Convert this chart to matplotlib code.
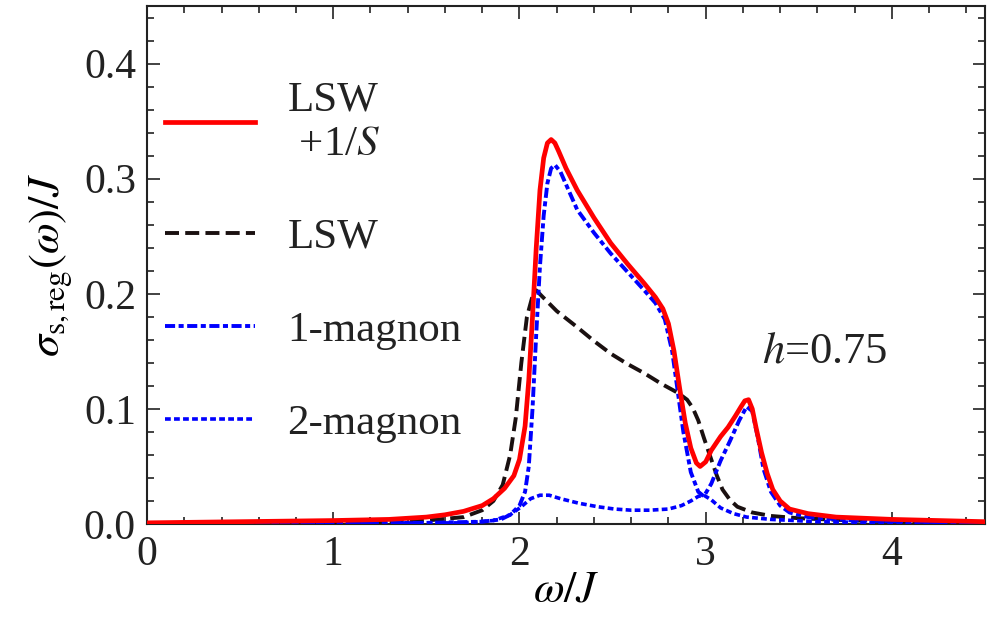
import matplotlib.pyplot as plt
from matplotlib.ticker import MultipleLocator

plt.rcParams.update({"font.family": "Liberation Serif", "mathtext.fontset": "stix",
                     "font.size": 30})

# omega/J values and sigma curves
w_red = [0.0, 0.5, 1.0, 1.3, 1.5, 1.6, 1.7, 1.8, 1.86, 1.92, 1.97, 2.00, 2.03, 2.05,
         2.07, 2.09, 2.11, 2.13, 2.15, 2.17, 2.19, 2.21, 2.25, 2.31, 2.40, 2.49, 2.58,
         2.67, 2.73, 2.77, 2.80, 2.83, 2.86, 2.89, 2.92, 2.95, 2.97, 3.00, 3.03, 3.08,
         3.12, 3.16, 3.19, 3.21, 3.23, 3.25, 3.27, 3.30, 3.33, 3.36, 3.40, 3.45, 3.55,
         3.70, 4.0, 4.5]
s_red = [0.001, 0.002, 0.003, 0.004, 0.006, 0.008, 0.011, 0.016, 0.022, 0.031, 0.042,
         0.056, 0.085, 0.125, 0.180, 0.240, 0.290, 0.318, 0.331, 0.334, 0.331, 0.324,
         0.309, 0.290, 0.266, 0.244, 0.226, 0.209, 0.197, 0.187, 0.174, 0.150, 0.118,
         0.088, 0.066, 0.053, 0.050, 0.054, 0.064, 0.076, 0.084, 0.094, 0.102, 0.107,
         0.108, 0.100, 0.084, 0.062, 0.044, 0.030, 0.020, 0.013, 0.009, 0.006, 0.004,
         0.002]

w_lsw = [0.0, 1.0, 1.5, 1.7, 1.8, 1.86, 1.91, 1.95, 1.98, 2.01, 2.04, 2.07, 2.09, 2.12,
         2.20, 2.31, 2.40, 2.49, 2.58, 2.67, 2.76, 2.85, 2.90, 2.93, 2.96, 2.99, 3.03,
         3.06, 3.09, 3.13, 3.17, 3.25, 3.35, 3.5, 3.8, 4.2, 4.5]
s_lsw = [0.0, 0.001, 0.003, 0.006, 0.012, 0.020, 0.034, 0.060, 0.092, 0.140, 0.180,
         0.198, 0.203, 0.198, 0.185, 0.171, 0.159, 0.148, 0.139, 0.131, 0.122, 0.114,
         0.108, 0.101, 0.090, 0.075, 0.056, 0.042, 0.030, 0.021, 0.015, 0.010, 0.007,
         0.005, 0.003, 0.002, 0.001]

w_one = [0.0, 1.5, 1.8, 1.9, 1.95, 2.00, 2.03, 2.05, 2.07, 2.09, 2.11, 2.13, 2.15, 2.17,
         2.19, 2.22, 2.31, 2.40, 2.49, 2.58, 2.67, 2.73, 2.78, 2.82, 2.85, 2.88, 2.92,
         2.96, 2.99, 3.03, 3.08, 3.13, 3.18, 3.22, 3.25, 3.28, 3.31, 3.35, 3.40, 3.45,
         3.55, 3.8, 4.5]
s_one = [0.0, 0.001, 0.002, 0.004, 0.008, 0.016, 0.028, 0.050, 0.100, 0.165, 0.224,
         0.268, 0.296, 0.309, 0.312, 0.306, 0.273, 0.253, 0.235, 0.219, 0.203, 0.192,
         0.178, 0.150, 0.115, 0.080, 0.045, 0.028, 0.024, 0.035, 0.055, 0.072, 0.090,
         0.102, 0.098, 0.075, 0.048, 0.028, 0.016, 0.010, 0.006, 0.003, 0.001]

w_two = [0.0, 1.7, 1.86, 1.95, 2.01, 2.06, 2.11, 2.16, 2.22, 2.32, 2.42, 2.51, 2.60,
         2.70, 2.80, 2.87, 2.92, 2.96, 2.99, 3.03, 3.08, 3.15, 3.22, 3.35, 3.6, 4.0, 4.5]
s_two = [0.0, 0.001, 0.003, 0.008, 0.015, 0.022, 0.025, 0.025, 0.022, 0.018, 0.015,
         0.013, 0.012, 0.012, 0.013, 0.016, 0.020, 0.024, 0.025, 0.021, 0.014, 0.009,
         0.006, 0.004, 0.002, 0.001, 0.001]

fig = plt.figure(figsize=(9.9, 6.34), dpi=100)
ax = fig.add_axes([0.1485, 0.1735, 0.8465, 0.817])

ax.plot(w_red, s_red, color="#ff0000", lw=3.4, label="LSW\n +1/$S$", zorder=4)
ax.plot(w_lsw, s_lsw, color="#1a1010", lw=2.8, dashes=(3.6, 1.6), label="LSW", zorder=3)
ax.plot(w_one, s_one, color="#0000ff", lw=2.8, dashes=(2.6, 0.9, 1.3, 0.9),
        label="1-magnon", zorder=3)
ax.plot(w_two, s_two, color="#0000ff", lw=2.6, dashes=(1.6, 0.9), label="2-magnon",
        zorder=3)

ax.set_xlim(0, 4.5)
ax.set_ylim(0, 0.45)
ax.xaxis.set_major_locator(MultipleLocator(1))
ax.xaxis.set_minor_locator(MultipleLocator(0.2))
ax.yaxis.set_major_locator(MultipleLocator(0.1))
ax.yaxis.set_minor_locator(MultipleLocator(0.02))
ax.yaxis.set_major_formatter(lambda v, p: f"{v:.1f}")
ax.tick_params(which="both", direction="in", top=True, right=True, width=1.2,
               colors="#222222", labelcolor="#222222", pad=8)
ax.tick_params(which="major", length=9)
ax.tick_params(which="minor", length=5)
for s in ax.spines.values():
    s.set_linewidth(1.5)
    s.set_color("#222222")

ax.set_xlabel(r"$\omega/J$", fontsize=32, labelpad=-2)
ax.set_ylabel(r"$\sigma_{\rm s,reg}(\omega)/J$", fontsize=32, labelpad=6)
ax.text(3.3, 0.14, r"$h$=0.75", fontsize=32, color="#222222")

leg = ax.legend(loc="upper left", bbox_to_anchor=(-0.025, 0.93), frameon=False,
                handlelength=2.1, handletextpad=0.75, labelspacing=1.25, fontsize=31)
for t in leg.get_texts():
    t.set_color("#222222")

fig.savefig("out.png", dpi=100)
